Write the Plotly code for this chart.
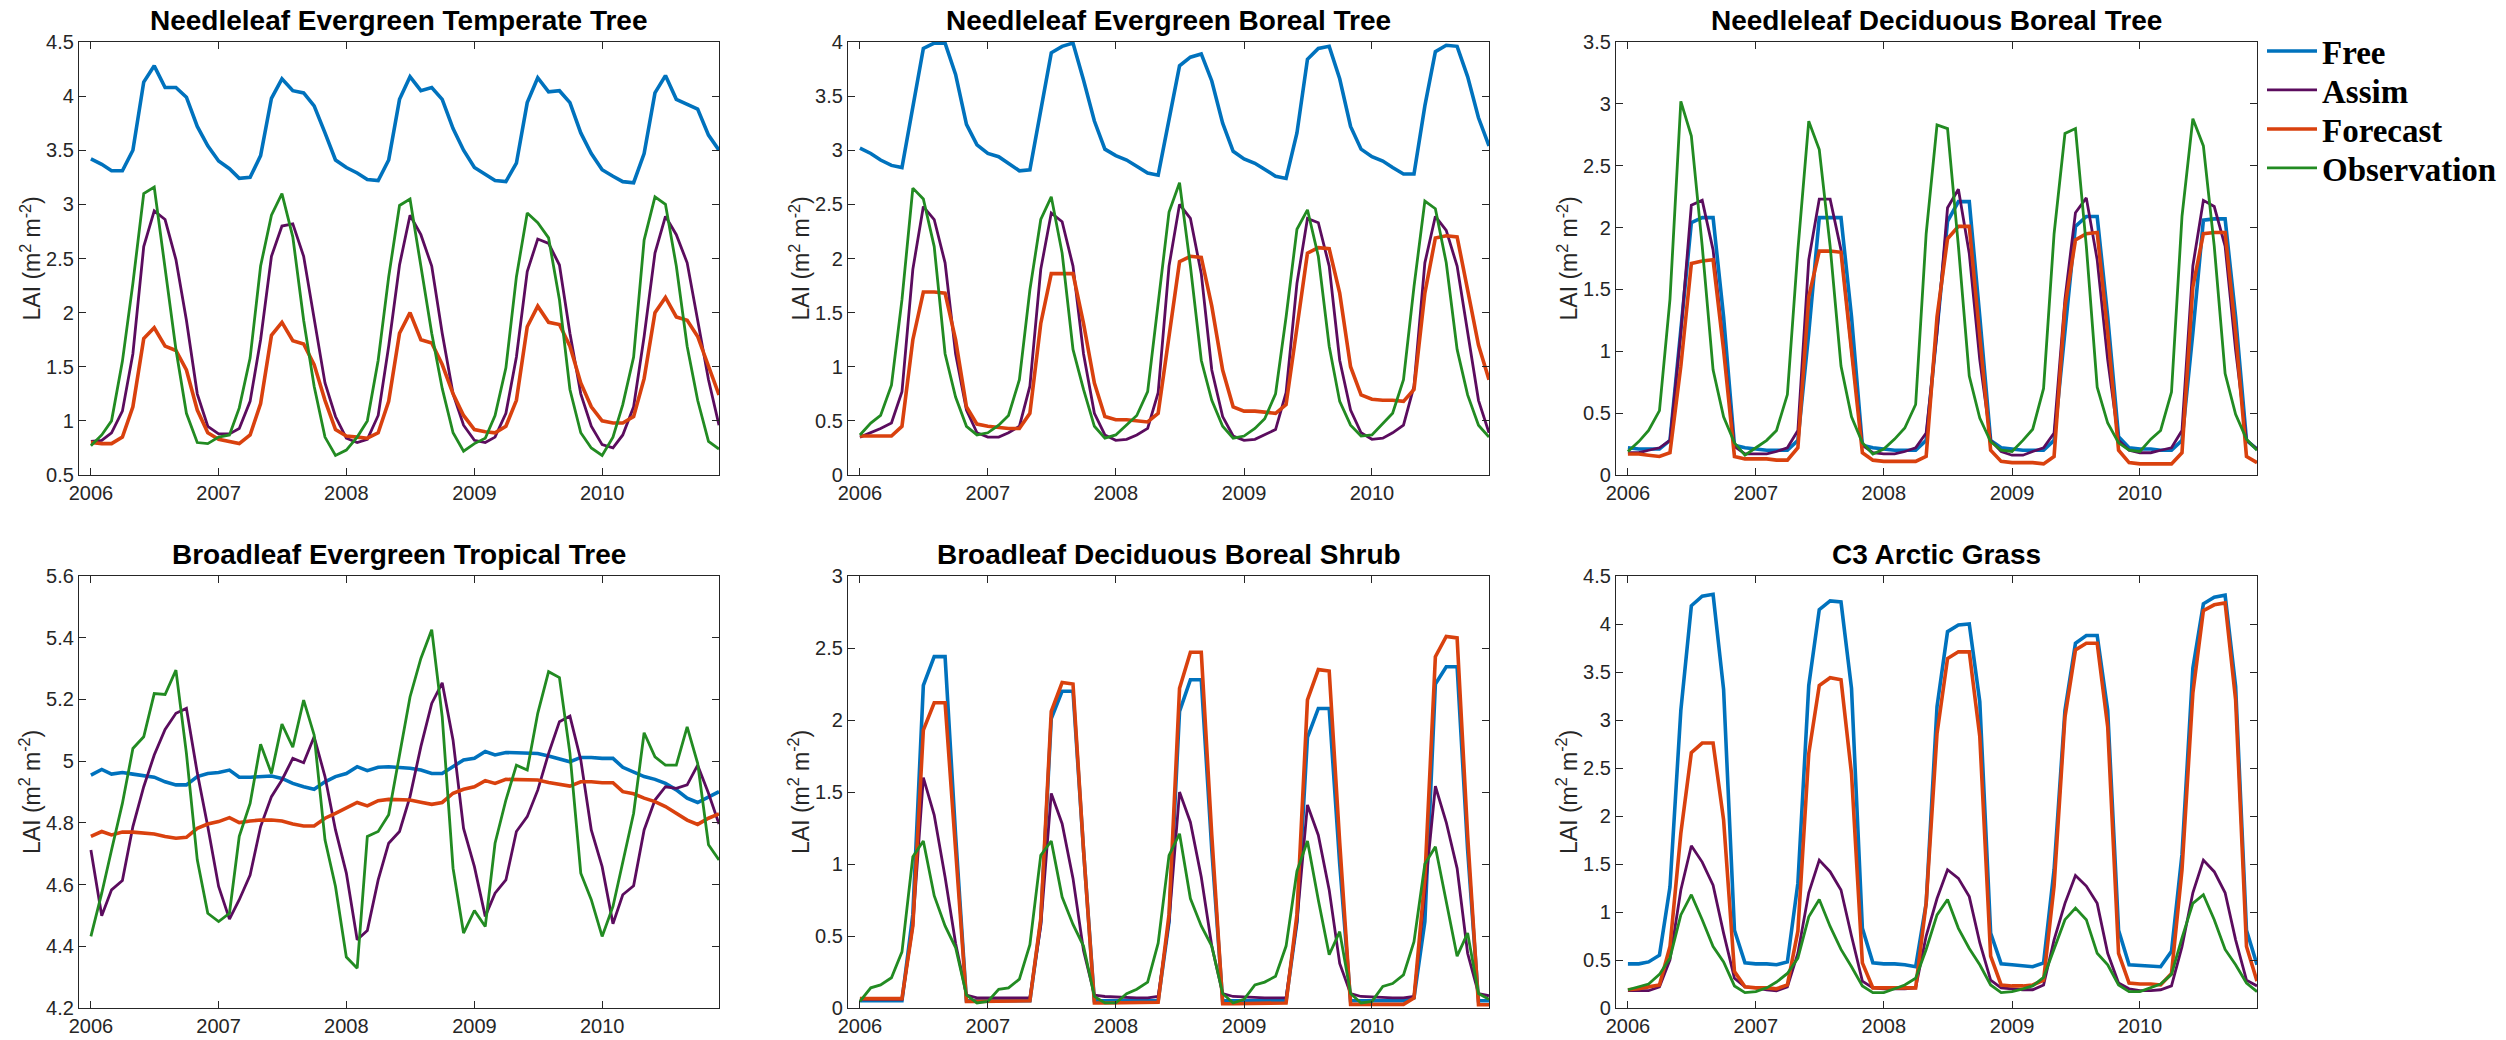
import pandas as pd
import plotly.graph_objects as go

# Monthly time axis, Jan 2006 - Dec 2010
months = pd.date_range("2006-01-01", periods=60, freq="MS")

titles = [
    "Needleleaf Evergreen Temperate Tree",
    "Needleleaf Evergreen Boreal Tree",
    "Needleleaf Deciduous Boreal Tree",
    "Broadleaf Evergreen Tropical Tree",
    "Broadleaf Deciduous Boreal Shrub",
    "C3 Arctic Grass",
]
series_names = ["Free", "Assim", "Forecast", "Observation"]
year_ticks = [2006, 2007, 2008, 2009, 2010]

# --- Needleleaf Evergreen Temperate Tree ---
free_net = [3.42, 3.37, 3.31, 3.31, 3.50, 4.13, 4.28, 4.08, 4.08, 3.99, 3.72, 3.54,
            3.40, 3.33, 3.24, 3.25, 3.45, 3.98, 4.16, 4.05, 4.03, 3.91, 3.66, 3.41,
            3.34, 3.29, 3.23, 3.22, 3.41, 3.97, 4.18, 4.05, 4.08, 3.97, 3.70, 3.50,
            3.34, 3.28, 3.22, 3.21, 3.38, 3.94, 4.17, 4.04, 4.05, 3.94, 3.66, 3.47,
            3.32, 3.26, 3.21, 3.20, 3.47, 4.03, 4.19, 3.97, 3.92, 3.88, 3.64, 3.50]
assim_net = [0.81, 0.82, 0.89, 1.09, 1.62, 2.61, 2.94, 2.86, 2.49, 1.93, 1.25, 0.95,
             0.88, 0.88, 0.93, 1.18, 1.75, 2.52, 2.80, 2.82, 2.52, 1.96, 1.35, 1.04,
             0.84, 0.80, 0.83, 1.05, 1.69, 2.44, 2.90, 2.72, 2.43, 1.81, 1.25, 0.96,
             0.82, 0.80, 0.85, 1.07, 1.59, 2.38, 2.68, 2.64, 2.44, 1.81, 1.25, 0.95,
             0.78, 0.75, 0.87, 1.13, 1.78, 2.55, 2.89, 2.72, 2.46, 1.93, 1.38, 0.96]
fcst_net = [0.80, 0.79, 0.79, 0.85, 1.13, 1.76, 1.86, 1.69, 1.65, 1.47, 1.10, 0.89,
            0.83, 0.81, 0.79, 0.87, 1.16, 1.79, 1.91, 1.74, 1.71, 1.52, 1.19, 0.92,
            0.86, 0.85, 0.84, 0.89, 1.18, 1.81, 2.00, 1.75, 1.72, 1.52, 1.25, 1.05,
            0.92, 0.90, 0.89, 0.95, 1.19, 1.87, 2.06, 1.91, 1.89, 1.69, 1.35, 1.13,
            1.00, 0.98, 0.98, 1.04, 1.39, 2.00, 2.14, 1.96, 1.93, 1.78, 1.50, 1.24]
obs_net = [0.77, 0.87, 1.00, 1.55, 2.27, 3.10, 3.16, 2.43, 1.66, 1.07, 0.80, 0.79,
           0.85, 0.87, 1.12, 1.58, 2.43, 2.90, 3.10, 2.70, 1.93, 1.32, 0.85, 0.68,
           0.73, 0.85, 1.00, 1.56, 2.33, 2.99, 3.05, 2.43, 1.81, 1.30, 0.89, 0.72,
           0.79, 0.84, 1.05, 1.49, 2.33, 2.92, 2.83, 2.69, 2.12, 1.29, 0.89, 0.75,
           0.68, 0.85, 1.15, 1.59, 2.67, 3.07, 3.00, 2.43, 1.69, 1.19, 0.81, 0.74]

# --- Needleleaf Evergreen Boreal Tree ---
free_neb = [3.02, 2.97, 2.91, 2.86, 2.84, 3.41, 3.94, 3.99, 3.99, 3.70, 3.24, 3.05,
            2.97, 2.94, 2.88, 2.81, 2.82, 3.37, 3.90, 3.96, 3.99, 3.65, 3.27, 3.01,
            2.95, 2.91, 2.85, 2.79, 2.77, 3.28, 3.78, 3.86, 3.89, 3.64, 3.25, 2.99,
            2.92, 2.88, 2.82, 2.76, 2.74, 3.16, 3.84, 3.94, 3.96, 3.66, 3.22, 3.01,
            2.94, 2.90, 2.84, 2.78, 2.78, 3.41, 3.91, 3.97, 3.96, 3.68, 3.30, 3.04]
assim_neb = [0.35, 0.39, 0.43, 0.48, 0.77, 1.90, 2.48, 2.36, 1.96, 1.12, 0.60, 0.39,
             0.35, 0.35, 0.39, 0.45, 0.82, 1.90, 2.42, 2.34, 1.93, 1.12, 0.57, 0.37,
             0.32, 0.33, 0.37, 0.43, 0.76, 1.93, 2.50, 2.37, 1.86, 0.97, 0.54, 0.36,
             0.32, 0.33, 0.37, 0.42, 0.76, 1.77, 2.37, 2.33, 1.93, 1.06, 0.60, 0.39,
             0.33, 0.34, 0.39, 0.46, 0.82, 1.96, 2.39, 2.26, 1.93, 1.31, 0.69, 0.39]
fcst_neb = [0.36, 0.36, 0.36, 0.36, 0.45, 1.25, 1.69, 1.69, 1.68, 1.25, 0.63, 0.47,
            0.45, 0.44, 0.43, 0.43, 0.57, 1.40, 1.86, 1.86, 1.86, 1.40, 0.85, 0.54,
            0.51, 0.51, 0.50, 0.49, 0.57, 1.31, 1.97, 2.02, 2.01, 1.56, 0.97, 0.63,
            0.59, 0.59, 0.58, 0.57, 0.65, 1.37, 2.05, 2.10, 2.09, 1.68, 1.00, 0.74,
            0.70, 0.69, 0.69, 0.68, 0.79, 1.68, 2.19, 2.21, 2.20, 1.71, 1.20, 0.88]
obs_neb = [0.37, 0.48, 0.55, 0.83, 1.62, 2.65, 2.55, 2.11, 1.12, 0.72, 0.45, 0.37,
           0.39, 0.46, 0.55, 0.88, 1.71, 2.36, 2.57, 2.05, 1.16, 0.79, 0.45, 0.34,
           0.37, 0.46, 0.55, 0.77, 1.56, 2.43, 2.70, 1.93, 1.06, 0.69, 0.45, 0.34,
           0.36, 0.43, 0.52, 0.75, 1.46, 2.27, 2.45, 2.02, 1.19, 0.68, 0.46, 0.36,
           0.37, 0.48, 0.57, 0.88, 1.74, 2.53, 2.46, 1.96, 1.16, 0.74, 0.46, 0.35]

# --- Needleleaf Deciduous Boreal Tree ---
free_ndb = [0.22, 0.21, 0.21, 0.21, 0.28, 1.15, 2.04, 2.08, 2.08, 1.28, 0.24, 0.22,
            0.21, 0.20, 0.20, 0.20, 0.28, 1.15, 2.08, 2.08, 2.08, 1.28, 0.24, 0.22,
            0.21, 0.20, 0.20, 0.20, 0.28, 1.15, 2.05, 2.21, 2.21, 1.28, 0.28, 0.22,
            0.21, 0.20, 0.20, 0.20, 0.28, 1.15, 2.01, 2.09, 2.09, 1.28, 0.31, 0.22,
            0.21, 0.21, 0.20, 0.20, 0.28, 1.15, 2.06, 2.07, 2.07, 1.28, 0.28, 0.21]
assim_ndb = [0.18, 0.18, 0.20, 0.22, 0.28, 1.15, 2.18, 2.22, 1.82, 1.01, 0.23, 0.17,
             0.17, 0.17, 0.19, 0.22, 0.36, 1.74, 2.23, 2.23, 1.82, 1.01, 0.24, 0.18,
             0.17, 0.17, 0.19, 0.22, 0.34, 1.15, 2.16, 2.31, 1.79, 0.93, 0.28, 0.19,
             0.16, 0.16, 0.19, 0.22, 0.34, 1.42, 2.12, 2.24, 1.74, 0.93, 0.28, 0.20,
             0.18, 0.18, 0.20, 0.22, 0.36, 1.69, 2.22, 2.17, 1.85, 1.01, 0.28, 0.21]
fcst_ndb = [0.17, 0.17, 0.16, 0.15, 0.18, 0.88, 1.71, 1.73, 1.74, 1.01, 0.15, 0.13,
            0.13, 0.13, 0.12, 0.12, 0.22, 1.44, 1.81, 1.81, 1.80, 1.01, 0.18, 0.12,
            0.11, 0.11, 0.11, 0.11, 0.15, 1.28, 1.91, 2.01, 2.01, 1.15, 0.20, 0.11,
            0.10, 0.10, 0.10, 0.09, 0.15, 1.36, 1.90, 1.95, 1.96, 1.15, 0.20, 0.10,
            0.09, 0.09, 0.09, 0.09, 0.18, 1.52, 1.95, 1.96, 1.96, 1.15, 0.15, 0.10]
obs_ndb = [0.19, 0.27, 0.36, 0.52, 1.42, 3.02, 2.74, 1.85, 0.85, 0.47, 0.26, 0.16,
           0.22, 0.28, 0.36, 0.65, 1.82, 2.86, 2.63, 1.85, 0.88, 0.47, 0.26, 0.17,
           0.21, 0.29, 0.38, 0.57, 1.95, 2.83, 2.80, 1.85, 0.80, 0.46, 0.27, 0.20,
           0.19, 0.28, 0.37, 0.70, 1.95, 2.76, 2.80, 1.85, 0.71, 0.42, 0.26, 0.20,
           0.19, 0.29, 0.36, 0.67, 2.09, 2.88, 2.66, 1.85, 0.82, 0.49, 0.29, 0.20]

# --- Broadleaf Evergreen Tropical Tree ---
free_bet = [4.955, 4.973, 4.958, 4.963, 4.958, 4.954, 4.948, 4.933, 4.923, 4.923, 4.950, 4.960,
            4.963, 4.971, 4.948, 4.948, 4.950, 4.952, 4.944, 4.928, 4.917, 4.909, 4.933, 4.950,
            4.960, 4.982, 4.969, 4.980, 4.982, 4.980, 4.977, 4.971, 4.960, 4.960, 4.982, 5.004,
            5.009, 5.031, 5.020, 5.028, 5.027, 5.027, 5.025, 5.017, 5.006, 4.998, 5.012, 5.012,
            5.009, 5.009, 4.980, 4.966, 4.950, 4.941, 4.928, 4.907, 4.880, 4.866, 4.885, 4.901]
assim_bet = [4.712, 4.499, 4.583, 4.613, 4.788, 4.917, 5.020, 5.103, 5.155, 5.171, 4.962, 4.788,
             4.594, 4.488, 4.551, 4.631, 4.788, 4.885, 4.939, 5.009, 4.995, 5.079, 4.950, 4.777,
             4.637, 4.421, 4.451, 4.615, 4.734, 4.772, 4.885, 5.047, 5.187, 5.254, 5.068, 4.782,
             4.658, 4.497, 4.572, 4.615, 4.772, 4.820, 4.906, 5.025, 5.128, 5.146, 5.004, 4.777,
             4.658, 4.473, 4.567, 4.596, 4.777, 4.874, 4.917, 4.912, 4.923, 4.987, 4.896, 4.796]
fcst_bet = [4.756, 4.772, 4.761, 4.770, 4.770, 4.766, 4.764, 4.756, 4.750, 4.753, 4.782, 4.796,
            4.804, 4.817, 4.801, 4.806, 4.809, 4.809, 4.806, 4.796, 4.790, 4.790, 4.815, 4.831,
            4.847, 4.866, 4.855, 4.872, 4.876, 4.874, 4.874, 4.867, 4.860, 4.866, 4.896, 4.909,
            4.917, 4.937, 4.928, 4.941, 4.941, 4.941, 4.939, 4.931, 4.925, 4.919, 4.933, 4.933,
            4.930, 4.930, 4.901, 4.894, 4.880, 4.869, 4.853, 4.831, 4.809, 4.795, 4.815, 4.829]
obs_bet = [4.432, 4.572, 4.712, 4.863, 5.041, 5.079, 5.219, 5.216, 5.295, 5.025, 4.680, 4.507,
           4.480, 4.507, 4.756, 4.863, 5.055, 4.960, 5.120, 5.045, 5.198, 5.085, 4.745, 4.594,
           4.365, 4.329, 4.756, 4.772, 4.826, 5.014, 5.208, 5.333, 5.426, 5.144, 4.653, 4.443,
           4.516, 4.464, 4.734, 4.874, 4.987, 4.971, 5.155, 5.290, 5.271, 5.025, 4.637, 4.551,
           4.432, 4.529, 4.669, 4.831, 5.092, 5.014, 4.987, 4.987, 5.111, 4.993, 4.729, 4.680]

# --- Broadleaf Deciduous Boreal Shrub ---
free_bdb = [0.05, 0.05, 0.05, 0.05, 0.05, 0.65, 2.24, 2.44, 2.44, 1.20, 0.05, 0.05,
            0.05, 0.05, 0.05, 0.05, 0.05, 0.60, 2.01, 2.20, 2.20, 1.10, 0.05, 0.05,
            0.05, 0.05, 0.05, 0.05, 0.05, 0.60, 2.06, 2.28, 2.28, 1.10, 0.05, 0.05,
            0.05, 0.05, 0.05, 0.05, 0.05, 0.60, 1.88, 2.08, 2.08, 1.00, 0.05, 0.05,
            0.05, 0.05, 0.05, 0.05, 0.07, 0.60, 2.25, 2.37, 2.37, 1.10, 0.05, 0.05]
assim_bdb = [0.06, 0.06, 0.06, 0.06, 0.06, 0.57, 1.60, 1.34, 0.91, 0.45, 0.09, 0.07,
             0.07, 0.07, 0.07, 0.07, 0.07, 0.57, 1.49, 1.28, 0.90, 0.40, 0.09, 0.08,
             0.075, 0.07, 0.07, 0.07, 0.08, 0.60, 1.50, 1.29, 0.91, 0.43, 0.10, 0.08,
             0.075, 0.07, 0.07, 0.07, 0.07, 0.60, 1.41, 1.20, 0.82, 0.31, 0.10, 0.08,
             0.075, 0.07, 0.07, 0.07, 0.08, 0.80, 1.54, 1.29, 0.97, 0.38, 0.10, 0.085]
fcst_bdb = [0.065, 0.065, 0.065, 0.065, 0.065, 0.57, 1.93, 2.12, 2.12, 1.10, 0.046, 0.046,
            0.046, 0.046, 0.046, 0.046, 0.05, 0.62, 2.06, 2.26, 2.25, 1.10, 0.035, 0.035,
            0.035, 0.035, 0.035, 0.035, 0.04, 0.65, 2.22, 2.47, 2.47, 1.20, 0.03, 0.03,
            0.03, 0.03, 0.03, 0.03, 0.035, 0.65, 2.14, 2.35, 2.34, 1.15, 0.025, 0.025,
            0.025, 0.025, 0.025, 0.025, 0.07, 0.90, 2.44, 2.58, 2.57, 1.20, 0.023, 0.023]
obs_bdb = [0.046, 0.14, 0.16, 0.21, 0.39, 1.05, 1.16, 0.78, 0.57, 0.42, 0.09, 0.035,
           0.046, 0.13, 0.14, 0.20, 0.44, 1.06, 1.16, 0.77, 0.58, 0.43, 0.08, 0.035,
           0.035, 0.10, 0.13, 0.18, 0.45, 1.06, 1.21, 0.76, 0.57, 0.43, 0.10, 0.035,
           0.06, 0.16, 0.18, 0.22, 0.43, 0.95, 1.16, 0.75, 0.37, 0.53, 0.10, 0.035,
           0.046, 0.15, 0.17, 0.23, 0.46, 1.00, 1.12, 0.73, 0.36, 0.52, 0.10, 0.06]

# --- C3 Arctic Grass ---
free_c3 = [0.46, 0.46, 0.48, 0.55, 1.26, 3.10, 4.19, 4.29, 4.31, 3.32, 0.81, 0.47,
           0.46, 0.46, 0.45, 0.48, 1.30, 3.36, 4.15, 4.24, 4.23, 3.33, 0.83, 0.47,
           0.46, 0.46, 0.45, 0.43, 1.09, 3.14, 3.92, 3.99, 4.00, 3.19, 0.78, 0.46,
           0.45, 0.44, 0.43, 0.47, 1.44, 3.10, 3.80, 3.88, 3.88, 3.10, 0.81, 0.45,
           0.44, 0.43, 0.43, 0.59, 1.60, 3.54, 4.21, 4.28, 4.30, 3.35, 0.81, 0.45]
assim_c3 = [0.18, 0.18, 0.18, 0.22, 0.50, 1.23, 1.69, 1.52, 1.28, 0.78, 0.31, 0.22,
            0.21, 0.19, 0.18, 0.22, 0.57, 1.20, 1.54, 1.42, 1.23, 0.75, 0.28, 0.21,
            0.20, 0.20, 0.20, 0.21, 0.75, 1.14, 1.44, 1.35, 1.16, 0.68, 0.29, 0.21,
            0.20, 0.19, 0.19, 0.24, 0.71, 1.09, 1.38, 1.27, 1.09, 0.57, 0.26, 0.20,
            0.18, 0.18, 0.19, 0.23, 0.64, 1.20, 1.54, 1.42, 1.20, 0.71, 0.29, 0.23]
fcst_c3 = [0.19, 0.20, 0.22, 0.24, 0.64, 1.82, 2.66, 2.76, 2.76, 1.96, 0.38, 0.22,
           0.21, 0.21, 0.20, 0.24, 0.80, 2.65, 3.36, 3.44, 3.42, 2.44, 0.47, 0.21,
           0.21, 0.21, 0.21, 0.21, 1.09, 2.86, 3.64, 3.71, 3.71, 2.83, 0.54, 0.24,
           0.23, 0.23, 0.24, 0.29, 1.27, 3.03, 3.73, 3.80, 3.80, 2.93, 0.57, 0.26,
           0.25, 0.25, 0.24, 0.36, 1.44, 3.28, 4.14, 4.20, 4.22, 3.21, 0.64, 0.28]
obs_c3 = [0.19, 0.22, 0.25, 0.35, 0.52, 0.97, 1.18, 0.92, 0.64, 0.48, 0.23, 0.16,
          0.17, 0.21, 0.27, 0.36, 0.52, 0.95, 1.13, 0.85, 0.61, 0.43, 0.23, 0.16,
          0.16, 0.20, 0.24, 0.31, 0.61, 0.97, 1.13, 0.83, 0.62, 0.45, 0.24, 0.16,
          0.17, 0.20, 0.23, 0.32, 0.61, 0.92, 1.04, 0.92, 0.57, 0.45, 0.24, 0.17,
          0.17, 0.21, 0.25, 0.35, 0.73, 1.09, 1.18, 0.92, 0.61, 0.45, 0.26, 0.17]

panel_data = [
    (free_net, assim_net, fcst_net, obs_net),
    (free_neb, assim_neb, fcst_neb, obs_neb),
    (free_ndb, assim_ndb, fcst_ndb, obs_ndb),
    (free_bet, assim_bet, fcst_bet, obs_bet),
    (free_bdb, assim_bdb, fcst_bdb, obs_bdb),
    (free_c3, assim_c3, fcst_c3, obs_c3),
]
y_ranges = [(0.5, 4.5), (0, 4), (0, 3.5), (4.2, 5.6), (0, 3), (0, 4.5)]
y_steps = [0.5, 0.5, 0.5, 0.2, 0.5, 0.5]

# Styling
W, H = 2506, 1040
colors = ["#0072BD", "#5B0C5E", "#D9410E", "#228B22"]
widths = [3.6, 2.8, 3.6, 2.8]
axis_color = "#262626"
sans = "Liberation Sans, Arial, Helvetica, sans-serif"
serif = "Liberation Serif, Times New Roman, serif"

col_px = [(79, 719), (848, 1489), (1616, 2257)]
row_px = [(42, 475), (576, 1008)]

fig = go.Figure()
annotations = []

for k, data in enumerate(panel_data):
    r, c = divmod(k, 3)
    suffix = "" if k == 0 else str(k + 1)
    for i, vals in enumerate(data):
        legend_id = "legend" if i == 0 else f"legend{i + 1}"
        fig.add_trace(go.Scatter(
            x=months, y=vals, mode="lines", name=series_names[i],
            line=dict(color=colors[i], width=widths[i]),
            xaxis="x" + suffix, yaxis="y" + suffix,
            showlegend=(k == 0), legend=legend_id,
            hoverinfo="skip",
        ))
    x0, x1 = col_px[c]
    y0, y1 = row_px[r]
    common = dict(
        showgrid=False, zeroline=False, showline=True, linecolor=axis_color,
        linewidth=1.3, mirror="ticks", ticks="inside", ticklen=7, tickwidth=1.3,
        tickcolor=axis_color, tickfont=dict(family=sans, size=20, color=axis_color),
        automargin=False,
    )
    fig.update_layout(**{
        f"xaxis{suffix}": dict(
            common, domain=[x0 / W, x1 / W], anchor="y" + suffix,
            type="date", range=["2005-11-28", "2010-12-01"],
            tickvals=[f"{y}-01-01" for y in year_ticks],
            ticktext=[str(y) for y in year_ticks],
        ),
        f"yaxis{suffix}": dict(
            common, domain=[1 - y1 / H, 1 - y0 / H], anchor="x" + suffix,
            range=list(y_ranges[k]), tick0=y_ranges[k][0], dtick=y_steps[k],
        ),
    })
    # panel title
    annotations.append(dict(
        text=f"<b>{titles[k]}</b>", xref="paper", yref="paper",
        x=(x0 + x1) / 2 / W, y=1 - (y0 - 22) / H, xanchor="center", yanchor="middle",
        showarrow=False, font=dict(family=sans, size=28, color="black"),
    ))
    # y-axis label
    annotations.append(dict(
        text="LAI (m<sup>2</sup> m<sup>-2</sup>)", xref="paper", yref="paper",
        x=(x0 - 49) / W, y=1 - (y0 + y1) / 2 / H, xanchor="center", yanchor="middle",
        textangle=-90, showarrow=False, font=dict(family=sans, size=23, color=axis_color),
    ))

legend_rows = [51, 90, 129, 168]
legend_cfg = {}
for i, ypx in enumerate(legend_rows):
    key = "legend" if i == 0 else f"legend{i + 1}"
    legend_cfg[key] = dict(
        x=2262 / W, y=1 - ypx / H, xanchor="left", yanchor="middle",
        font=dict(family=serif, size=33, color="black", weight="bold"),
        bgcolor="rgba(0,0,0,0)", borderwidth=0, itemwidth=50,
    )

fig.update_layout(
    width=W, height=H, margin=dict(l=0, r=0, t=0, b=0),
    paper_bgcolor="white", plot_bgcolor="white",
    annotations=annotations, **legend_cfg,
)

fig.write_html("out.html")
